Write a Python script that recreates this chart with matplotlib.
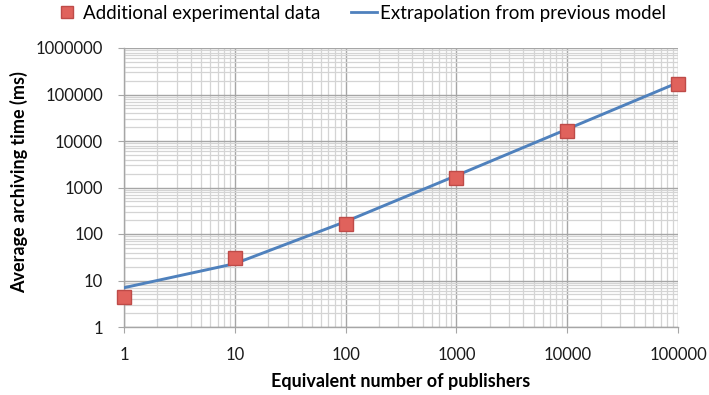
import matplotlib
matplotlib.use("Agg")
import matplotlib.pyplot as plt
from matplotlib.ticker import LogLocator, FixedLocator, NullFormatter
from matplotlib.lines import Line2D

plt.rcParams['font.family'] = ['Lato', 'DejaVu Sans']

# Equivalent number of publishers
publishers = [1, 10, 100, 1000, 10000, 100000]
# Measured archiving time (ms)
experimental = [4.4, 30, 167, 1600, 16400, 166000]
# Model extrapolation (ms)
extrapolation = [7, 23, 185, 1805, 18005, 180005]

tick_labels = ["1", "10", "100", "1000", "10000", "100000"]
y_ticks = [1, 10, 100, 1000, 10000, 100000, 1000000]
y_labels = ["1", "10", "100", "1000", "10000", "100000", "1000000"]

W, H = 709, 395
fig = plt.figure(figsize=(W / 100, H / 100), dpi=100)
ax = fig.add_axes([124 / W, 1 - 327 / H, (678 - 124) / W, (327 - 48) / H])

ax.set_xscale('log')
ax.set_yscale('log')
ax.set_xlim(1, 100000)
ax.set_ylim(1, 1000000)

ax.xaxis.set_major_locator(FixedLocator(publishers))
ax.xaxis.set_minor_locator(LogLocator(base=10, subs=range(2, 10), numticks=20))
ax.yaxis.set_major_locator(FixedLocator(y_ticks))
ax.yaxis.set_minor_locator(LogLocator(base=10, subs=range(2, 10), numticks=20))
ax.xaxis.set_minor_formatter(NullFormatter())
ax.yaxis.set_minor_formatter(NullFormatter())
ax.set_xticklabels(tick_labels)
ax.set_yticklabels(y_labels)

ax.grid(which='minor', color='#D4D4D4', linewidth=0.9)
ax.grid(which='major', color='#A6A6A6', linewidth=1.0)
ax.set_axisbelow(True)

for side in ('top', 'right'):
    ax.spines[side].set_visible(False)
for side in ('left', 'bottom'):
    ax.spines[side].set_color('#A6A6A6')
    ax.spines[side].set_linewidth(1.0)

ax.tick_params(which='major', length=4.5, color='#A6A6A6', labelsize=12,
               labelcolor='#1a1a1a')
ax.tick_params(axis='x', which='major', pad=10)
ax.tick_params(axis='y', which='major', pad=10.5)
ax.tick_params(which='minor', length=0)

ax.plot(publishers, extrapolation, color='#4F81BD', linewidth=2.1, zorder=3)
ax.plot(publishers, experimental, linestyle='none', marker='s', markersize=9.5,
        markerfacecolor='#E0625C', markeredgecolor='#BE4B48', markeredgewidth=1.0,
        zorder=4, clip_on=False)

ax.set_xlabel('Equivalent number of publishers', fontsize=13, fontweight='bold')
ax.set_ylabel('Average archiving time (ms)', fontsize=13, fontweight='bold')
ax.xaxis.set_label_coords(0.5, (327 - 373) / (327 - 48))
ax.yaxis.set_label_coords((28 - 124) / (678 - 124), 0.52)

handles = [
    Line2D([], [], linestyle='none', marker='s', markersize=8.5,
           markerfacecolor='#E0625C', markeredgecolor='#BE4B48'),
    Line2D([], [], color='#4F81BD', linewidth=2.0),
]
fig.legend(handles, ['Additional experimental data', 'Extrapolation from previous model'],
           loc='center', bbox_to_anchor=(360 / W, 1 - 13 / H), ncol=2, frameon=False,
           fontsize=13.5, handlelength=1.4, handletextpad=0.15, columnspacing=1.6,
           borderpad=0)

fig.savefig('out.png', dpi=100)
